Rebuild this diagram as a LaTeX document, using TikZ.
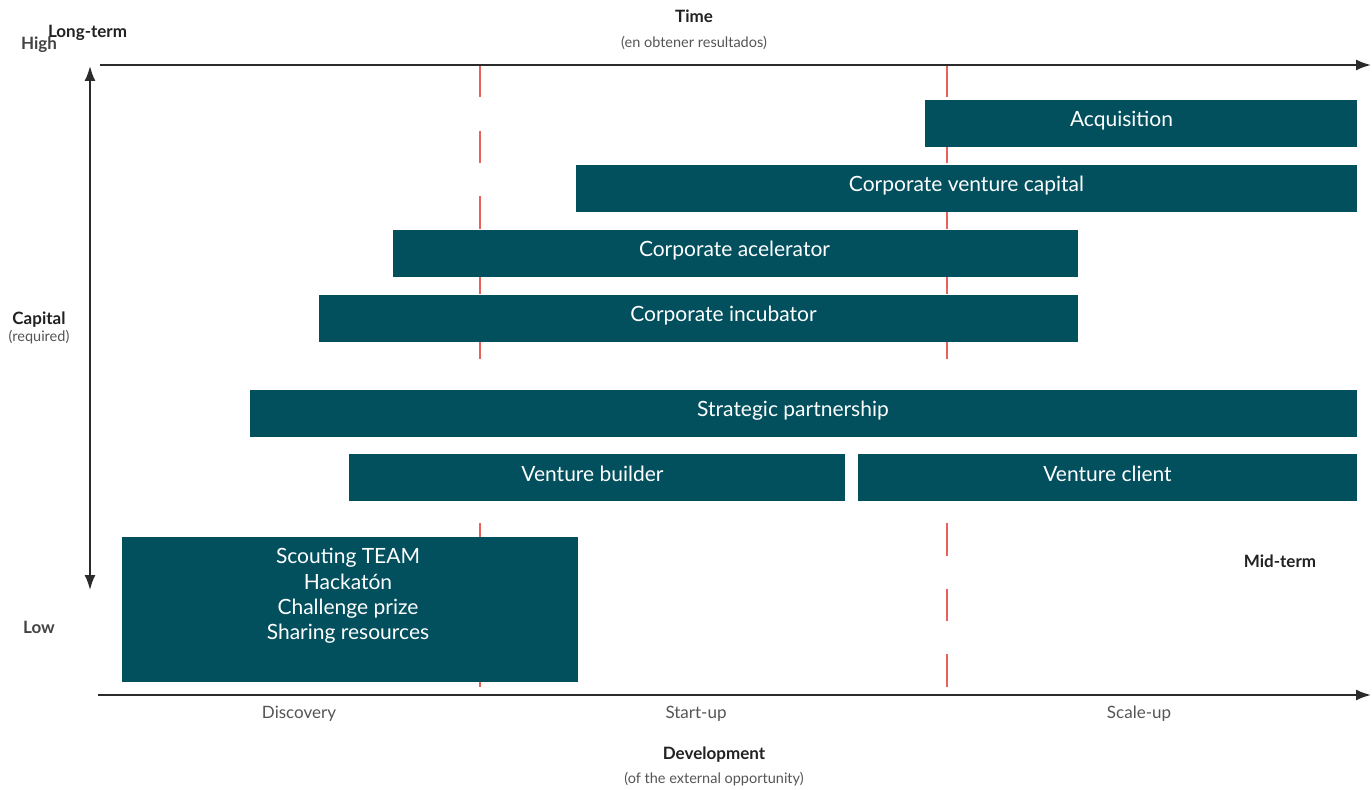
\documentclass[tikz,border=0pt]{standalone}
\usepackage{fontspec}
\setmainfont{Lato}
\usetikzlibrary{arrows.meta}
\definecolor{barteal}{HTML}{02505E}
\definecolor{dashred}{HTML}{E8625C}
\definecolor{axisdark}{HTML}{2B2B2B}
\definecolor{labeldark}{HTML}{222222}
\definecolor{labelgrey}{HTML}{555555}
\begin{document}
\begin{tikzpicture}[x=1pt,y=-1pt,
  bar/.style={fill=barteal, draw=none, inner sep=0pt, anchor=north west, minimum height=47pt},
  bartext/.style={text=white, inner sep=0pt, font=\fontsize{21}{25.3}\selectfont, text height=15pt, text depth=1pt},
  blocktext/.style={text=white, inner sep=0pt, font=\fontsize{21}{25.3}\selectfont, align=center},
  axislbl/.style={text=labeldark, inner sep=0pt, font=\fontsize{17}{20}\selectfont\bfseries},
  sublbl/.style={text=labelgrey, inner sep=0pt, font=\fontsize{14.5}{17}\selectfont},
  stagelbl/.style={text=labelgrey, inner sep=0pt, font=\fontsize{17}{20}\selectfont},
  axisline/.style={draw=axisdark, line width=2pt, -{Latex[length=15pt,width=11pt]}},
  reddash/.style={draw=dashred, line width=2pt, dash pattern=on 32.5pt off 33pt}
]
\useasboundingbox[fill=white] (0,0) rectangle (1372,789);

% dashed stage separators
\coordinate (d1a) at (480,65);  \coordinate (d1b) at (480,359);
\coordinate (d1c) at (480,523); \coordinate (d1d) at (480,688);
\coordinate (d2a) at (947,65);  \coordinate (d2b) at (947,359);
\coordinate (d2c) at (947,523); \coordinate (d2d) at (947,688);
\draw[reddash] (d1a) -- (d1b);
\draw[reddash] (d1c) -- (d1d);
\draw[reddash] (d2a) -- (d2b);
\draw[reddash] (d2c) -- (d2d);

% axes
\coordinate (topstart) at (100,65);  \coordinate (topend) at (1371,65);
\coordinate (botstart) at (98,695);  \coordinate (botend) at (1371,695);
\coordinate (vtop) at (90,66);       \coordinate (vbot) at (90,590);
\draw[axisline] (topstart) -- (topend);
\draw[axisline] (botstart) -- (botend);
\draw[axisline, {Latex[length=15pt,width=11pt]}-{Latex[length=15pt,width=11pt]}] (vtop) -- (vbot);

% bars
\node[bar, minimum width=432pt] (acq) at (925,100) {};
\node[bar, minimum width=781pt] (cvc) at (576,165) {};
\node[bar, minimum width=685pt] (acc) at (393,230) {};
\node[bar, minimum width=759pt] (inc) at (319,295) {};
\node[bar, minimum width=1107pt] (sp) at (250,390) {};
\node[bar, minimum width=496pt] (vb) at (349,454) {};
\node[bar, minimum width=499pt] (vc) at (858,454) {};
\node[bar, minimum width=456pt, minimum height=145pt] (scout) at (122,537) {};

% bar texts
\node[bartext] (acqtext) at (1121.5,119) {Acquisition};
\node[bartext] (cvctext) at (966.5,184) {Corporate venture capital};
\node[bartext] (acctext) at (734.5,249.5) {Corporate acelerator};
\node[bartext] (inctext) at (723.5,314) {Corporate incubator};
\node[bartext] (sptext) at (793,409) {Strategic partnership};
\node[bartext] (vbtext) at (592.5,474.5) {Venture builder};
\node[bartext] (vctext) at (1107.5,474.5) {Venture client};
\node[blocktext] (scouttext) at (348,596) {Scouting TEAM\\Hackatón\\Challenge prize\\Sharing resources};

% labels
\node[axislbl] (time) at (694,16.5) {Time};
\node[sublbl] (timesub) at (694,43) {(en obtener resultados)};
\node[axislbl, text=labeldark!85] (high) at (39,45) {High};
\node[axislbl] (longterm) at (87.5,33) {Long-term};
\node[axislbl] (capital) at (39,320) {Capital};
\node[sublbl] (capsub) at (39,337) {(required)};
\node[axislbl, text=labeldark!85] (low) at (39,627) {Low};
\node[axislbl] (midterm) at (1280,561.5) {Mid-term};
\node[stagelbl] (disc) at (299,714) {Discovery};
\node[stagelbl] (start) at (696,714) {Start-up};
\node[stagelbl] (scale) at (1139,714) {Scale-up};
\node[axislbl] (dev) at (714,755) {Development};
\node[sublbl] (devsub) at (714,779) {(of the external opportunity)};
\end{tikzpicture}
\end{document}
